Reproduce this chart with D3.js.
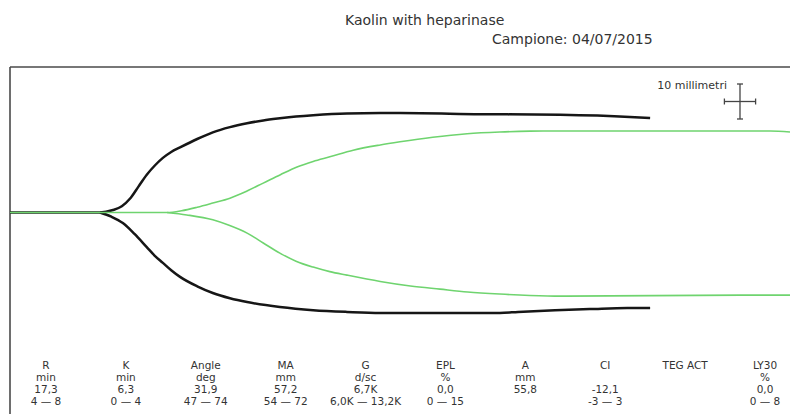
<!DOCTYPE html>
<html>
<head>
<meta charset="utf-8">
<script src="https://cdn.jsdelivr.net/npm/d3@7"></script>
<style>
  body { margin: 0; background: #fff; }
  svg { display: block; font-family: "DejaVu Sans", Verdana, sans-serif; }
</style>
</head>
<body>
<svg id="teg" width="790" height="414"></svg>
<script>

// tracciato nero (kaolin) - tempo in minuti, ampiezza in mm
const kaolinUpperT = [0, 17.3, 19.8, 21.5, 23.1, 24.7, 26.3, 27.9, 29.4, 31.0, 32.7, 36.0, 39.0, 42.3, 45.6, 48.7, 51.9, 55.0, 58.3, 64.8, 71.2, 75.0, 90.4, 105.8, 119.2, 123.1];
const kaolinUpperA = [0, 0, 0.7, 1.8, 4.0, 7.4, 10.8, 13.5, 15.6, 17.3, 18.6, 21.0, 22.9, 24.4, 25.5, 26.3, 26.9, 27.4, 27.8, 28.3, 28.4, 28.4, 28.1, 27.9, 27.3, 27.0];
const kaolinLowerT = [17.3, 19.5, 21.7, 24.0, 26.3, 27.8, 29.4, 31.0, 32.7, 36.0, 39.0, 42.3, 45.6, 51.9, 58.3, 64.8, 71.2, 94.2, 97.7, 104.8, 111.5, 118.7, 123.1];
const kaolinLowerA = [0, -1.2, -3.0, -6.2, -9.9, -12.3, -14.4, -16.5, -18.4, -21.1, -23.0, -24.5, -25.6, -27.0, -27.9, -28.4, -28.7, -28.7, -28.4, -27.9, -27.6, -27.3, -27.3];

// tracciato verde (heparinase)
const hepUpperT = [0, 30.2, 33.0, 36.0, 39.0, 42.3, 45.5, 48.7, 52.0, 55.2, 58.3, 61.5, 66.0, 71.2, 75.0, 81.3, 87.9, 94.2, 100.0, 103.8, 146.2, 150];
const hepUpperA = [0, 0, 0.5, 1.5, 2.7, 4.1, 6.1, 8.4, 10.8, 13.0, 14.6, 15.9, 17.8, 19.3, 20.2, 21.5, 22.5, 23.0, 23.25, 23.3, 23.3, 23.0];
const hepLowerT = [30.2, 34.0, 39.0, 42.0, 45.6, 48.7, 51.9, 55.0, 58.3, 61.5, 64.8, 71.2, 77.0, 82.7, 88.0, 94.2, 100.0, 105.8, 141.7, 150];
const hepLowerA = [0, -0.7, -2.1, -3.6, -5.9, -8.7, -11.6, -13.9, -15.6, -16.9, -17.9, -19.7, -21.0, -21.9, -22.7, -23.3, -23.7, -23.9, -23.6, -23.6];

// tabella dei parametri
const params = ["R", "K", "Angle", "MA", "G", "EPL", "A", "CI", "TEG ACT", "LY30"];
const units  = ["min", "min", "deg", "mm", "d/sc", "%", "mm", "", "", "%"];
const values = ["17,3", "6,3", "31,9", "57,2", "6,7K", "0,0", "55,8", "-12,1", "", "0,0"];
const ranges = ["4 \u2014 8", "0 \u2014 4", "47 \u2014 74", "54 \u2014 72", "6,0K \u2014 13,2K", "0 \u2014 15", "", "-3 \u2014 3", "", "0 \u2014 8"];

const title = "Kaolin with heparinase";
const subtitle = "Campione: 04/07/2015";
const scaleLabel = "10 millimetri";
const scaleBarMm = 10;
const scaleBarMin = 6;

const svg = d3.select("#teg");
const W = 790, H = 414;

// scale: tempo -> x, ampiezza -> y
const x = d3.scaleLinear().domain([0, 150]).range([10, W]);
const y = d3.scaleLinear().domain([-40, 40]).range([352.5, 72.5]);

// cornice
const frame = svg.append("g").attr("stroke", "#4a4a4a").attr("stroke-width", 1.6).attr("fill", "none");
frame.append("line").attr("x1", 10).attr("x2", W).attr("y1", 67).attr("y2", 67);
frame.append("line").attr("x1", 10).attr("x2", 10).attr("y1", 67).attr("y2", H);

// titolo
svg.append("text").attr("x", 345).attr("y", 25)
  .attr("font-size", 14).attr("fill", "#333").text(title);
svg.append("text").attr("x", 492).attr("y", 44)
  .attr("font-size", 14).attr("fill", "#333").text(subtitle);

// tracciati
const line = d3.line()
  .x(d => x(d[0]))
  .y(d => y(d[1]))
  .curve(d3.curveMonotoneX);

function drawTrace(ts, as, color, width) {
  svg.append("path")
    .datum(d3.zip(ts, as))
    .attr("d", line)
    .attr("fill", "none")
    .attr("stroke", color)
    .attr("stroke-width", width)
    .attr("stroke-linejoin", "round");
}

drawTrace(kaolinLowerT, kaolinLowerA, "#161616", 2.5);
drawTrace(kaolinUpperT, kaolinUpperA, "#161616", 2.5);
drawTrace(hepLowerT, hepLowerA, "#6fd46f", 1.6);
drawTrace(hepUpperT, hepUpperA, "#6fd46f", 1.6);

// scala 10 mm
const cx = 740, cy = 101.5;
const halfV = (y(0) - y(scaleBarMm)) / 2;
const halfH = (x(scaleBarMin) - x(0)) / 2;
const bar = svg.append("g").attr("stroke", "#444").attr("stroke-width", 1.3);
bar.append("line").attr("x1", cx).attr("x2", cx).attr("y1", cy - halfV).attr("y2", cy + halfV);
bar.append("line").attr("x1", cx - 3).attr("x2", cx + 3).attr("y1", cy - halfV).attr("y2", cy - halfV);
bar.append("line").attr("x1", cx - 3).attr("x2", cx + 3).attr("y1", cy + halfV).attr("y2", cy + halfV);
bar.append("line").attr("x1", cx - halfH).attr("x2", cx + halfH).attr("y1", cy).attr("y2", cy);
bar.append("line").attr("x1", cx - halfH).attr("x2", cx - halfH).attr("y1", cy - 3).attr("y2", cy + 3);
bar.append("line").attr("x1", cx + halfH).attr("x2", cx + halfH).attr("y1", cy - 3).attr("y2", cy + 3);
svg.append("text").attr("x", 727).attr("y", 89)
  .attr("text-anchor", "end").attr("font-size", 11).attr("fill", "#333").text(scaleLabel);

// tabella parametri
const col = d3.scalePoint().domain(params).range([46, 765]);
const rows = [params, units, values, ranges];
const rowY = d3.scalePoint().domain(d3.range(rows.length)).range([369, 405]);

rows.forEach((row, i) => {
  svg.append("g")
    .selectAll("text")
    .data(row)
    .join("text")
    .attr("x", (d, j) => col(params[j]))
    .attr("y", rowY(i))
    .attr("text-anchor", "middle")
    .attr("font-size", 10.5)
    .attr("fill", "#333")
    .text(d => d);
});

</script>
</body>
</html>
